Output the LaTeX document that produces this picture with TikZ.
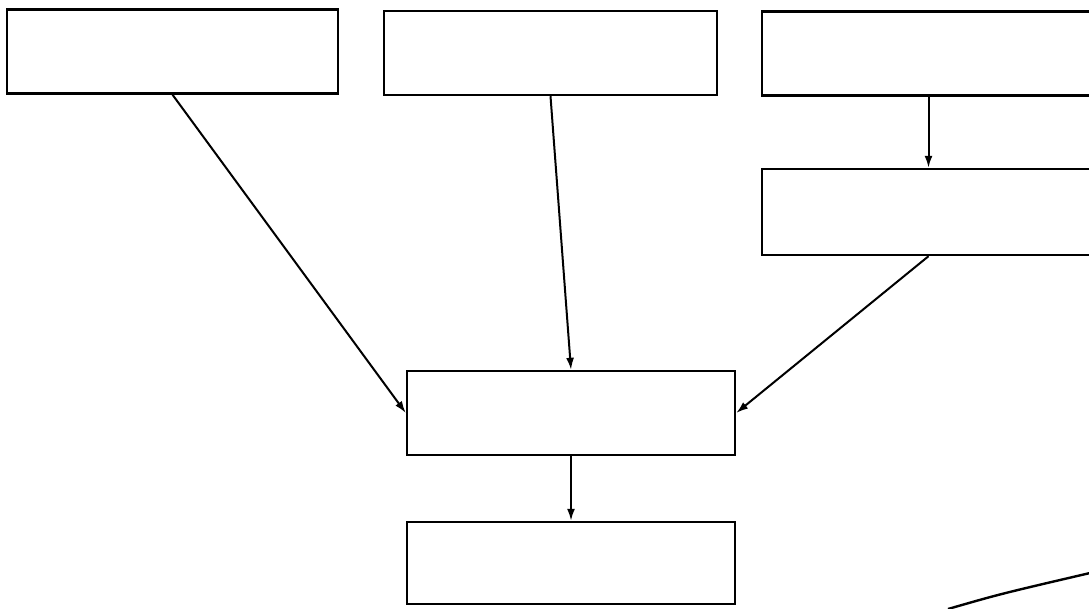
\documentclass[tikz,border=0pt]{standalone}
\usetikzlibrary{arrows.meta}
\begin{document}
\begin{tikzpicture}[x=1pt,y=-1pt,
  box/.style={draw=black,line width=2.4pt,fill=white,inner sep=0pt,minimum width=331pt,minimum height=84pt},
  conn/.style={line width=2pt,-{Latex[length=12pt,width=8pt]}}]
\useasboundingbox (0,0) rectangle (1089,608);
\clip (0,0) rectangle (1089,608);
\fill[white] (0,0) rectangle (1089,608);
\node[box] (A) at (172.5,51.5) {};
\node[box,minimum width=333pt] (B) at (550.5,53) {};
\node[box,minimum width=333pt] (C) at (928.5,53.5) {};
\node[box,minimum width=333pt,minimum height=86pt] (D) at (928.5,212) {};
\node[box,minimum width=328pt] (E) at (571,413) {};
\node[box,minimum width=328pt,minimum height=82pt] (F) at (571,563) {};
\draw[conn] (A.south) -- (E.west);
\draw[conn] (B.south) -- (E.north);
\draw[conn] (C.south) -- (D.north);
\draw[conn] (D.south) -- (E.east);
\draw[conn] (E.south) -- (F.north);
\coordinate (s1) at (948,609);
\coordinate (s2) at (1090,573);
\draw[line width=2.4pt] (s1) .. controls (1000,594) .. (s2);
\end{tikzpicture}
\end{document}
